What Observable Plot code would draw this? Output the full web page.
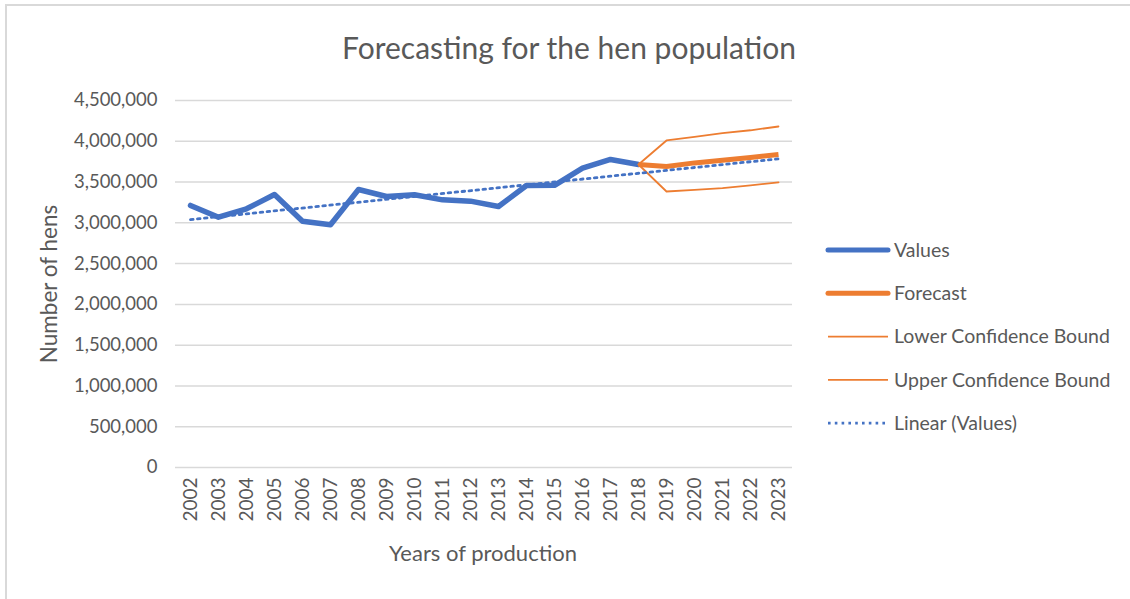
<!DOCTYPE html>
<html>
<head>
<meta charset="utf-8">
<script src="https://cdn.jsdelivr.net/npm/d3@7"></script>
<script src="https://cdn.jsdelivr.net/npm/@observablehq/plot@0.6"></script>
<style>
  html, body { margin: 0; padding: 0; background: #fff; overflow: hidden; }
  #chart svg { display: block; }
</style>
</head>
<body>
<div id="chart"></div>
<script>
// ---- data ----
const years = ["2002","2003","2004","2005","2006","2007","2008","2009","2010","2011","2012",
               "2013","2014","2015","2016","2017","2018","2019","2020","2021","2022","2023"];
const valueYears = years.slice(0, 17); // 2002..2018
const values = [3213000, 3069000, 3172000, 3347000, 3020000, 2976000, 3409000, 3323000, 3344000,
                3282000, 3266000, 3200000, 3458000, 3460000, 3670000, 3777000, 3715000];
const forecastYears = ["2018","2019","2020","2021","2022","2023"];
const forecast = [3715000, 3691000, 3735000, 3768000, 3800000, 3838000];
const lowerBound = [3715000, 3384000, 3405000, 3425000, 3460000, 3495000];
const upperBound = [3715000, 4010000, 4055000, 4100000, 4135000, 4181000];
const trendYears = ["2002", "2023"];
const trend = [3040000, 3785000];
const yTicks = [0, 500000, 1000000, 1500000, 2000000, 2500000, 3000000, 3500000, 4000000, 4500000];

const legendItems = [
  {label: "Values", color: "#4472C4", width: 5, dash: null},
  {label: "Forecast", color: "#ED7D31", width: 5, dash: null},
  {label: "Lower Confidence Bound", color: "#ED7D31", width: 1.8, dash: null},
  {label: "Upper Confidence Bound", color: "#ED7D31", width: 1.8, dash: null},
  {label: "Linear (Values)", color: "#4472C4", width: 2.8, dash: "2.6,4.2"}
];

const toRows = (xs, ys) => xs.map((x, i) => ({x, y: ys[i]}));

const FONT = "Lato, 'Open Sans', sans-serif";
const GREY = "#595959";

const plot = Plot.plot({
  width: 1130,
  height: 599,
  marginLeft: 175,
  marginRight: 338,
  marginTop: 100,
  marginBottom: 132,
  style: {fontFamily: FONT, color: GREY, background: "#fff", overflow: "hidden"},
  x: {type: "point", domain: years, padding: 0.5},
  y: {domain: [0, 4500000]},
  marks: [
    Plot.gridY(yTicks, {stroke: "#d9d9d9", strokeOpacity: 1, strokeWidth: 1.5}),
    Plot.axisY(yTicks, {tickSize: 0, tickPadding: 18, fontSize: 18.5, tickFormat: d3.format(","), label: null, fill: GREY}),
    Plot.axisX({tickSize: 0, tickPadding: 10, tickRotate: -90, fontSize: 19, label: null, fill: GREY}),
    Plot.line(toRows(valueYears, values), {x: "x", y: "y", stroke: "#4472C4", strokeWidth: 5.5, strokeLinejoin: "round", strokeLinecap: "round"}),
    Plot.line(toRows(forecastYears, forecast), {x: "x", y: "y", stroke: "#ED7D31", strokeWidth: 5, strokeLinejoin: "round", strokeLinecap: "butt"}),
    Plot.line(toRows(forecastYears, lowerBound), {x: "x", y: "y", stroke: "#ED7D31", strokeWidth: 1.8}),
    Plot.line(toRows(forecastYears, upperBound), {x: "x", y: "y", stroke: "#ED7D31", strokeWidth: 1.8}),
    Plot.line(toRows(trendYears, trend), {x: "x", y: "y", stroke: "#4472C4", strokeWidth: 2.8, strokeDasharray: "2.6,4.4"})
  ]
});

document.getElementById("chart").appendChild(plot);

// ---- decorations: border, title, axis titles, legend ----
const svg = d3.select(plot);
const border = svg.insert("g", ":first-child").attr("stroke", "#d9d9d9").attr("stroke-width", 2);
border.append("line").attr("x1", 6).attr("x2", 6).attr("y1", 4).attr("y2", 599);
border.append("line").attr("x1", 5).attr("x2", 1130).attr("y1", 5).attr("y2", 5);

const deco = svg.append("g").attr("font-family", FONT).attr("fill", GREY);

deco.append("text")
  .attr("x", 569).attr("y", 59)
  .attr("text-anchor", "middle")
  .attr("font-size", 30)
  .text("Forecasting for the hen population");

deco.append("text")
  .attr("transform", "translate(57,284) rotate(-90)")
  .attr("text-anchor", "middle")
  .attr("font-size", 22.5)
  .text("Number of hens");

deco.append("text")
  .attr("x", 483).attr("y", 561)
  .attr("text-anchor", "middle")
  .attr("font-size", 22)
  .text("Years of production");

const legend = deco.append("g").attr("font-size", 19.5);
legendItems.forEach((d, i) => {
  const y = 250 + i * 43.3;
  legend.append("line")
    .attr("x1", 828).attr("x2", 888).attr("y1", y).attr("y2", y)
    .attr("stroke", d.color).attr("stroke-width", d.width)
    .attr("stroke-linecap", d.dash ? "butt" : (d.width > 3 ? "round" : "butt"))
    .attr("stroke-dasharray", d.dash);
  legend.append("text")
    .attr("x", 894).attr("y", y).attr("dy", "0.35em")
    .attr("text-anchor", "start")
    .text(d.label);
});
</script>
</body>
</html>
